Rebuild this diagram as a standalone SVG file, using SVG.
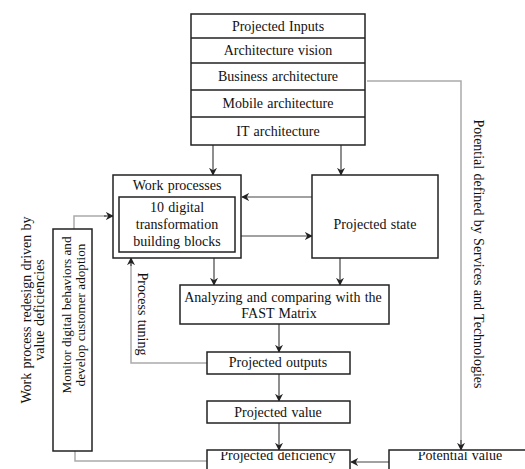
<svg xmlns="http://www.w3.org/2000/svg" width="525" height="469" viewBox="0 0 525 469" font-family="'Liberation Serif', 'DejaVu Serif', serif">
<style>
.b{fill:#fff;stroke:#222;stroke-width:1.5}
.t{font-family:'Liberation Serif','DejaVu Serif',serif;font-size:14px;word-spacing:0.8px;fill:#111;text-anchor:middle}
.s{font-size:13.2px;word-spacing:0}
.k{stroke:#444;stroke-width:1.2;fill:none}
.g{stroke:#aaa;stroke-width:1.5;fill:none}
</style>
<defs>
<marker id="a" viewBox="0 0 10 10" refX="9" refY="5" markerWidth="8" markerHeight="8" markerUnits="userSpaceOnUse" orient="auto"><path d="M0,0 L10,5 L0,10 L3,5 z" fill="#222"/></marker>
<clipPath id="cb"><rect x="0" y="452" width="525" height="20"/></clipPath>
</defs>
<rect width="525" height="469" fill="#fff"/>
<g id="connectors">
<path class="k" d="M213,145 V175" marker-end="url(#a)"/>
<path class="k" d="M341,145 V175" marker-end="url(#a)"/>
<path class="k" d="M312,197 H242" marker-end="url(#a)"/>
<path class="k" d="M235,236 H312" marker-end="url(#a)"/>
<path class="k" d="M214,258 V285" marker-end="url(#a)"/>
<path class="k" d="M340,258 V285" marker-end="url(#a)"/>
<path class="k" d="M279,324 V352" marker-end="url(#a)"/>
<path class="k" d="M279,374 V401" marker-end="url(#a)"/>
<path class="k" d="M279,423 V450" marker-end="url(#a)"/>
<path class="k" d="M389,462 H351" marker-end="url(#a)"/>
<path class="g" d="M367,81 H461 V449"/>
<path class="k" d="M461,440 V450" marker-end="url(#a)"/>
<path class="g" d="M207,363 H131 V262"/>
<path class="k" d="M131,266 V258" marker-end="url(#a)"/>
<path class="g" d="M207,461 H75 V451"/>
<path class="g" d="M74,229 V216 H106"/>
<path class="k" d="M104,216 H113" marker-end="url(#a)"/>
</g>
<g id="inputs">
<rect class="b" x="191" y="14" width="174" height="131"/>
<path d="M191,38 H365 M191,63 H365 M191,90 H365 M191,117 H365" fill="none" stroke="#222" stroke-width="1.5"/>
<text class="t" x="278" y="30.5">Projected Inputs</text>
<text class="t" x="278" y="55">Architecture vision</text>
<text class="t" x="278" y="81">Business architecture</text>
<text class="t" x="278" y="108">Mobile architecture</text>
<text class="t" x="278" y="135.5">IT architecture</text>
</g>
<g id="work-processes">
<rect class="b" x="113" y="175" width="128" height="83"/>
<text class="t" x="177" y="190">Work processes</text>
</g>
<g id="building-blocks">
<rect class="b" x="119" y="197" width="116" height="55"/>
<text class="t" x="177" y="212">10 digital</text>
<text class="t" x="177" y="229">transformation</text>
<text class="t" x="177" y="246">building blocks</text>
</g>
<g id="projected-state">
<rect class="b" x="312" y="175" width="126" height="83"/>
<text class="t" x="375" y="228.5">Projected state</text>
</g>
<g id="analyzing">
<rect class="b" x="180" y="285" width="209" height="39"/>
<text class="t" x="283" y="301.5">Analyzing and comparing with the</text>
<text class="t" x="279" y="317.5">FAST Matrix</text>
</g>
<g id="projected-outputs">
<rect class="b" x="207" y="352" width="143" height="22"/>
<text class="t" x="278" y="367">Projected outputs</text>
</g>
<g id="projected-value">
<rect class="b" x="207" y="401" width="143" height="22"/>
<text class="t" x="278" y="416.5">Projected value</text>
</g>
<g id="projected-deficiency">
<rect class="b" x="207" y="450" width="143" height="30"/>
<text class="t" x="278" y="460" clip-path="url(#cb)">Projected deficiency</text>
</g>
<g id="potential-value">
<rect class="b" x="389" y="450" width="150" height="30"/>
<text class="t" x="460" y="460" clip-path="url(#cb)">Potential value</text>
</g>
<g id="monitor">
<rect class="b" x="53" y="229" width="39" height="222"/>
<text class="t s" transform="translate(70.5,315) rotate(-90)">Monitor digital behaviors and</text>
<text class="t s" transform="translate(84.5,315) rotate(-90)">develop customer adoption</text>
</g>
<g id="labels">
<text class="t" transform="translate(30.5,310) rotate(-90)">Work process redesign driven by</text>
<text class="t" transform="translate(44,310) rotate(-90)">value deficiencies</text>
<text class="t" transform="translate(137.5,314) rotate(90)">Process tuning</text>
<text class="t" transform="translate(473.5,254) rotate(90)">Potential defined by Services and Technologies</text>
</g>
</svg>
